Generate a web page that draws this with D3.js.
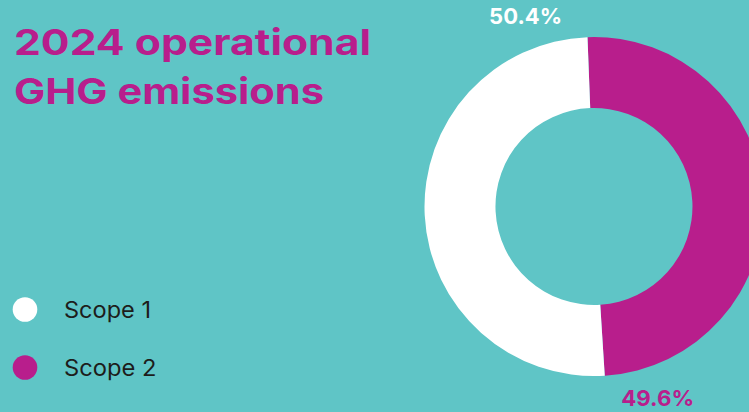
<!DOCTYPE html>
<html>
<head>
<meta charset="utf-8">
<script src="https://cdn.jsdelivr.net/npm/d3@7"></script>
<style>
  html, body { margin: 0; padding: 0; background: #5fc5c6; }
  svg { display: block; }
</style>
</head>
<body>
<svg id="chart" width="749" height="412"></svg>
<script>
// Share of operational GHG emissions by scope (%)
const categories = ["Scope 2", "Scope 1"];
const shares = [49.6, 50.4];
const labels = ["49.6%", "50.4%"];
const titleLines = ["2024 operational", "GHG emissions"];
const legendLabels = ["Scope 1", "Scope 2"];

const W = 749, H = 412;
const bg = "#5fc5c6";
const magenta = "#b81e8c";
const colour = d3.scaleOrdinal()
  .domain(["Scope 1", "Scope 2"])
  .range(["#ffffff", magenta]);

const svg = d3.select("#chart");
svg.append("rect").attr("width", W).attr("height", H).attr("fill", bg);

// Title
const title = svg.append("text")
  .attr("fill", magenta)
  .attr("font-family", "Inter, 'Noto Sans', sans-serif")
  .attr("font-weight", 700)
  .attr("font-size", 35.5);
const titleWidths = [357, 310];
titleLines.forEach((t, i) => {
  title.append("tspan")
    .attr("x", 14)
    .attr("y", 55 + i * 49)
    .attr("textLength", titleWidths[i])
    .attr("lengthAdjust", "spacingAndGlyphs")
    .text(t);
});

// Donut
const cx = 594, cy = 206.5, outerR = 169.5, innerR = 98.5;
const rotation = -2.2 * Math.PI / 180;
const pie = d3.pie()
  .sort(null)
  .value(d => d.value)
  .startAngle(rotation)
  .endAngle(2 * Math.PI + rotation);
const data = categories.map((c, i) => ({ name: c, value: shares[i], label: labels[i] }));
const arcs = pie(data);
const arc = d3.arc().innerRadius(innerR).outerRadius(outerR);

const g = svg.append("g").attr("transform", `translate(${cx},${cy})`);
g.selectAll("path.slice")
  .data(arcs)
  .join("path")
  .attr("class", "slice")
  .attr("d", arc)
  .attr("fill", d => colour(d.data.name));

// Percentage labels, set outside the ring near the end of each slice
const labelArc = d3.arc().innerRadius(202).outerRadius(202);
const labelBack = { "Scope 2": 0.257, "Scope 1": 0.307 };
g.selectAll("text.pct")
  .data(arcs)
  .join("text")
  .attr("class", "pct")
  .attr("transform", d => {
    const a = d.endAngle - labelBack[d.data.name];
    const [x, y] = labelArc.centroid({ startAngle: a, endAngle: a });
    return `translate(${x},${y})`;
  })
  .attr("text-anchor", "middle")
  .attr("dy", "0.36em")
  .attr("font-family", "Inter, 'Noto Sans', sans-serif")
  .attr("font-weight", 700)
  .attr("font-size", 22)
  .attr("textLength", 73)
  .attr("lengthAdjust", "spacingAndGlyphs")
  .attr("fill", d => d.data.name === "Scope 1" ? "#ffffff" : magenta)
  .text(d => d.data.label);

// Legend
const legendY = d3.scalePoint().domain(legendLabels).range([309.5, 367.5]);
const legendWidths = { "Scope 1": 87, "Scope 2": 92.5 };
const legend = svg.append("g");
const items = legend.selectAll("g")
  .data(legendLabels)
  .join("g")
  .attr("transform", d => `translate(0,${legendY(d)})`);
items.append("circle")
  .attr("cx", 25)
  .attr("r", 12.3)
  .attr("fill", d => colour(d));
items.append("text")
  .attr("x", 64)
  .attr("dy", "0.36em")
  .attr("font-family", "Inter, 'Noto Sans', sans-serif")
  .attr("font-weight", 400)
  .attr("font-size", 22.5)
  .attr("textLength", d => legendWidths[d])
  .attr("lengthAdjust", "spacingAndGlyphs")
  .attr("fill", "#1d1d1b")
  .text(d => d);
</script>
</body>
</html>
